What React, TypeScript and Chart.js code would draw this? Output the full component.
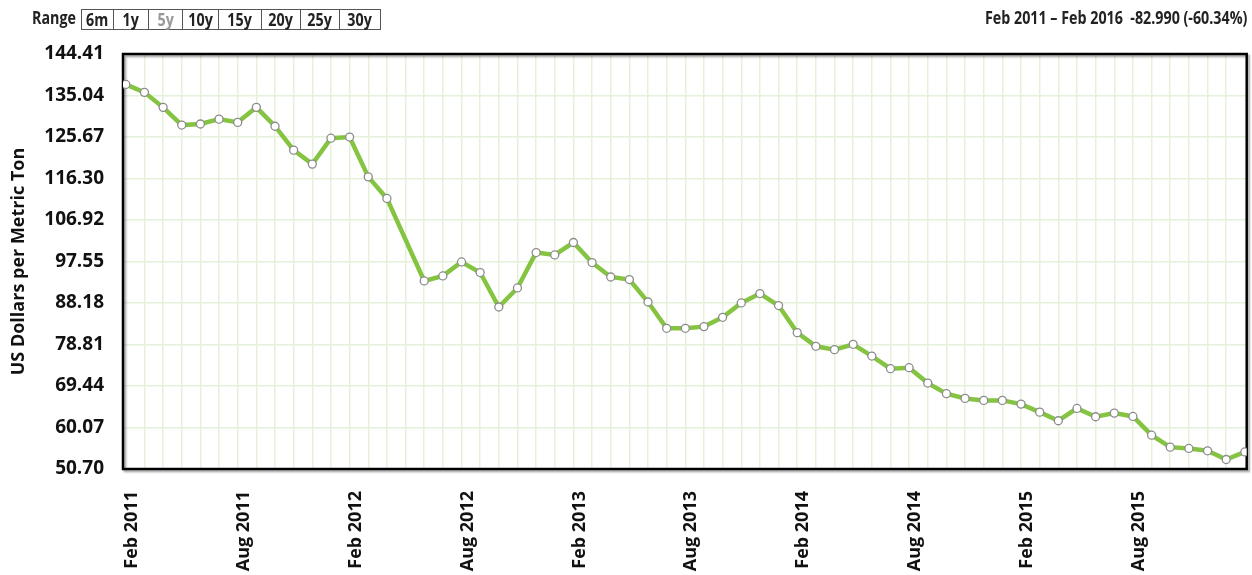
import React, { useEffect, useRef } from "react";
import { Chart, registerables } from "chart.js";

Chart.register(...registerables);

const monthLabels: string[] = [
  "Feb 2011", "Mar 2011", "Apr 2011", "May 2011", "Jun 2011", "Jul 2011",
  "Aug 2011", "Sep 2011", "Oct 2011", "Nov 2011", "Dec 2011", "Jan 2012",
  "Feb 2012", "Mar 2012", "Apr 2012", "May 2012", "Jun 2012", "Jul 2012",
  "Aug 2012", "Sep 2012", "Oct 2012", "Nov 2012", "Dec 2012", "Jan 2013",
  "Feb 2013", "Mar 2013", "Apr 2013", "May 2013", "Jun 2013", "Jul 2013",
  "Aug 2013", "Sep 2013", "Oct 2013", "Nov 2013", "Dec 2013", "Jan 2014",
  "Feb 2014", "Mar 2014", "Apr 2014", "May 2014", "Jun 2014", "Jul 2014",
  "Aug 2014", "Sep 2014", "Oct 2014", "Nov 2014", "Dec 2014", "Jan 2015",
  "Feb 2015", "Mar 2015", "Apr 2015", "May 2015", "Jun 2015", "Jul 2015",
  "Aug 2015", "Sep 2015", "Oct 2015", "Nov 2015", "Dec 2015", "Jan 2016",
  "Feb 2016",
];

const shownTickLabels: string[] = [
  "Feb 2011", "Aug 2011", "Feb 2012", "Aug 2012", "Feb 2013",
  "Aug 2013", "Feb 2014", "Aug 2014", "Feb 2015", "Aug 2015",
];

const priceValues: (number | null)[] = [
  137.54, 135.75, 132.36, 128.36, 128.6, 129.7, 128.97, 132.36, 128.1, 122.7,
  119.55, 125.4, 125.65, 116.67, 111.8, null, 93.16, 94.3, 97.46, 95.06,
  87.28, 91.58, 99.58, 99.04, 101.84, 97.32, 94.06, 93.48, 88.41, 82.47,
  82.47, 82.85, 84.95, 88.19, 90.31, 87.6, 81.49, 78.4, 77.65, 78.85,
  76.2, 73.35, 73.58, 70.1, 67.7, 66.64, 66.19, 66.19, 65.35, 63.54,
  61.6, 64.38, 62.5, 63.32, 62.57, 58.34, 55.63, 55.34, 54.81, 52.85,
  54.55,
];

const yTickValues: number[] = [50.7, 60.07, 69.44, 78.81, 88.18, 97.55, 106.92, 116.3, 125.67, 135.04, 144.41];
const yTickLabels: string[] = ["50.70", "60.07", "69.44", "78.81", "88.18", "97.55", "106.92", "116.30", "125.67", "135.04", "144.41"];

const rangeButtons: string[] = ["6m", "1y", "5y", "10y", "15y", "20y", "25y", "30y"];
const rangeWidths: number[] = [32, 35, 34, 36, 43, 39, 39, 41];
const activeRange = "5y";
const summaryText = "Feb 2011 \u2013 Feb 2016  -82.990 (-60.34%)";
const yTitle = "US Dollars per Metric Ton";

const GRID = "#e6f1da";
const LINE = "#85c441";

const framePlugin = {
  id: "frame",
  beforeDatasetsDraw(chart: any) {
    const { ctx, chartArea } = chart;
    ctx.save();
    ctx.shadowColor = "rgba(0,0,0,0.35)";
    ctx.shadowOffsetX = 2;
    ctx.shadowOffsetY = 2;
    ctx.shadowBlur = 2;
    ctx.strokeStyle = "#000";
    ctx.lineWidth = 2.5;
    ctx.strokeRect(chartArea.left, chartArea.top, chartArea.right - chartArea.left, chartArea.bottom - chartArea.top);
    ctx.restore();
  },
};

export default function App() {
  const ref = useRef<HTMLCanvasElement | null>(null);

  useEffect(() => {
    if (!ref.current) return;
    const points = priceValues.map((v, i) => ({ x: i, y: v }));
    const chart = new Chart(ref.current, {
      type: "line",
      data: {
        datasets: [
          {
            data: points as any,
            borderColor: LINE,
            borderWidth: 4.5,
            pointRadius: 4,
            pointBackgroundColor: "#ffffff",
            pointBorderColor: "#8c8c8c",
            pointBorderWidth: 1.3,
            tension: 0,
            spanGaps: true,
          },
        ],
      },
      options: {
        animation: false,
        responsive: true,
        maintainAspectRatio: false,
        layout: { padding: { top: 54, left: 0, right: 5, bottom: 0 } },
        plugins: { legend: { display: false }, tooltip: { enabled: false } },
        scales: {
          x: {
            type: "linear",
            min: -0.15,
            max: 60.1,
            afterBuildTicks: (axis: any) => {
              axis.ticks = monthLabels.map((_, i) => ({ value: i }));
            },
            afterFit: (axis: any) => {
              axis.paddingLeft = 0;
              axis.paddingRight = 0;
              axis.height = 113;
            },
            grid: {
              color: (c: any) => (c.tick && (c.tick.value === 0 || c.tick.value === monthLabels.length - 1) ? "rgba(0,0,0,0)" : GRID),
              lineWidth: 1.5,
              drawTicks: false,
            },
            border: { display: false },
            ticks: {
              autoSkip: false,
              maxRotation: 90,
              minRotation: 90,
              padding: 22,
              labelOffset: 6,
              color: "#111",
              font: { family: "'Open Sans', sans-serif", size: 18, weight: "bold" },
              callback: (v: any) => {
                const lbl = monthLabels[Number(v)];
                return shownTickLabels.includes(lbl) ? lbl : "";
              },
            },
          },
          y: {
            min: 50.7,
            max: 144.41,
            afterBuildTicks: (axis: any) => {
              axis.ticks = yTickValues.map((v) => ({ value: v }));
            },
            afterFit: (axis: any) => {
              axis.width = 123;
              axis.paddingTop = 0;
              axis.paddingBottom = 0;
            },
            grid: { color: GRID, lineWidth: 1.5, drawTicks: false },
            border: { display: false },
            ticks: {
              padding: 19,
              color: "#111",
              font: { family: "'Open Sans', sans-serif", size: 19, weight: "bold" },
              callback: (_v: any, i: number) => yTickLabels[i],
            },
            title: {
              display: true,
              text: yTitle,
              color: "#111",
              padding: { top: 8, bottom: 10 },
              font: { family: "'Open Sans', sans-serif", size: 18, weight: "bold" },
            },
          },
        },
      },
      plugins: [framePlugin],
    });
    return () => chart.destroy();
  }, []);

  const headFont = "'Open Sans', sans-serif";
  const squeeze = (txt: string, origin: string) => (
    <span style={{ display: "inline-block", transform: "scaleX(0.84)", transformOrigin: origin, whiteSpace: "pre" }}>{txt}</span>
  );

  return (
    <div style={{ position: "absolute", left: 0, top: 0, width: 1252, height: 582, background: "#fff" }}>
      <canvas ref={ref} />
      <div style={{ position: "absolute", left: 32, top: 7, height: 22, lineHeight: "22px", fontFamily: headFont, fontWeight: "bold", fontSize: 17, color: "#222" }}>
        {squeeze("Range", "left center")}
      </div>
      <div style={{ position: "absolute", left: 81, top: 9, height: 19, display: "flex", border: "1px solid #555", boxSizing: "content-box" }}>
        {rangeButtons.map((b, i) => (
          <div
            key={b}
            style={{
              width: rangeWidths[i] - 1,
              height: 19,
              lineHeight: "19px",
              textAlign: "center",
              borderLeft: i === 0 ? "none" : "1px solid #555",
              fontFamily: headFont,
              fontWeight: "bold",
              fontSize: 17,
              color: b === activeRange ? "#999" : "#222",
            }}
          >
            {squeeze(b, "center center")}
          </div>
        ))}
      </div>
      <div style={{ position: "absolute", right: 5, top: 7, height: 22, lineHeight: "22px", fontFamily: headFont, fontWeight: "bold", fontSize: 17, color: "#222", whiteSpace: "pre", textAlign: "right" }}>
        {squeeze(summaryText, "right center")}
      </div>
    </div>
  );
}
